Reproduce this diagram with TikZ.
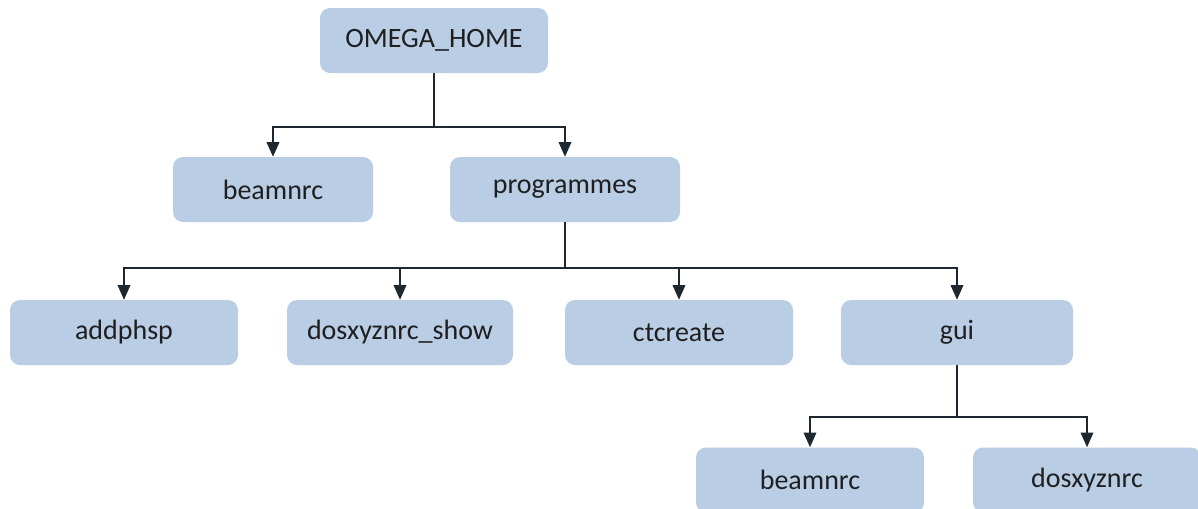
\documentclass[tikz,border=0pt]{standalone}
\usepackage{fontspec}
\setmainfont{Carlito}
\usetikzlibrary{arrows.meta}
\definecolor{boxblue}{RGB}{185,205,229}
\definecolor{linedark}{RGB}{30,40,48}
\begin{document}
\begin{tikzpicture}[x=0.75pt,y=0.75pt,yscale=-1,xscale=1,
    folder/.style={fill=boxblue, draw=none, rounded corners=7.5pt, minimum height=48.75pt, font=\fontsize{21}{25}\selectfont, text=black!88},
    branch/.style={draw=linedark, line width=1.1pt},
    arr/.style={branch, -{Triangle[width=9.5pt,length=11pt]}}]
    %set diagram at 1198 x 508
    \useasboundingbox (0,0) rectangle (1198,508);

    % Folders
    \node [folder, minimum width=171pt] (home) at (434,40.5) {OMEGA\_HOME};
    \node [folder, minimum width=150pt] (beamA) at (273,189.5) {beamnrc};
    \node [folder, minimum width=172.5pt] (prog) at (565,189.5) {programmes};
    \node [folder, minimum width=171pt] (addphsp) at (124,332.5) {addphsp};
    \node [folder, minimum width=169.5pt] (dosshow) at (400,332.5) {dosxyznrc\_show};
    \node [folder, minimum width=171pt] (ctcreate) at (679,332.5) {ctcreate};
    \node [folder, minimum width=174pt] (gui) at (957,332.5) {gui};
    \node [folder, minimum width=171pt] (beamB) at (810,480) {beamnrc};
    \node [folder, minimum width=171pt] (dosxyz) at (1087,480) {dosxyznrc};

    % Junctions
    \coordinate (jhome) at (434,127);
    \coordinate (jprog) at (565,268);
    \coordinate (jgui) at (957,417);

    % Straight Lines
    \draw [branch] (home.south) -- (jhome);
    \draw [arr] (jhome) -| (beamA.north);
    \draw [arr] (jhome) -| (prog.north);

    \draw [branch] (prog.south) -- (jprog);
    \draw [arr] (jprog) -| (addphsp.north);
    \draw [arr] (jprog) -| (dosshow.north);
    \draw [arr] (jprog) -| (ctcreate.north);
    \draw [arr] (jprog) -| (gui.north);

    \draw [branch] (gui.south) -- (jgui);
    \draw [arr] (jgui) -| (beamB.north);
    \draw [arr] (jgui) -| (dosxyz.north);

\end{tikzpicture}
\end{document}
